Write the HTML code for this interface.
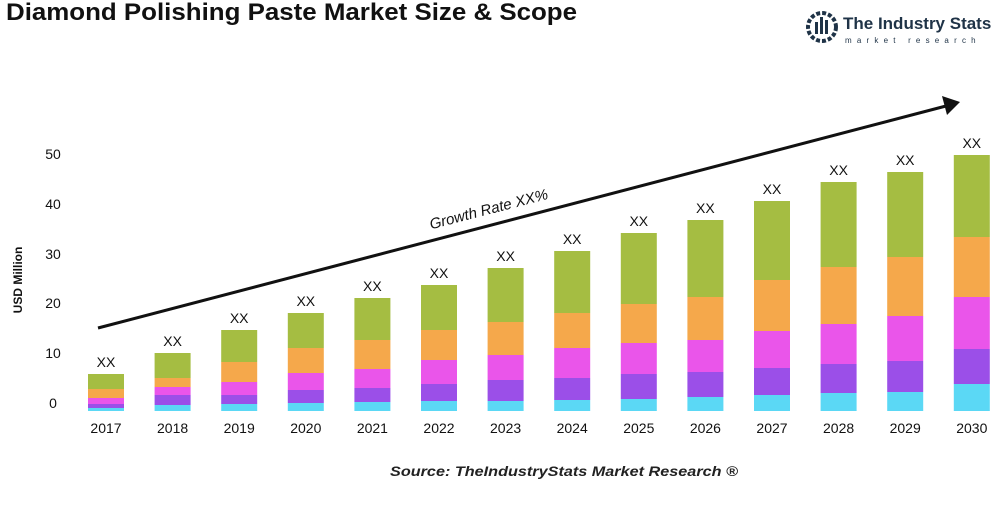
<!DOCTYPE html>
<html><head><meta charset="utf-8"><style>
body{margin:0;background:#fff;width:1000px;height:500px;overflow:hidden;font-family:"Liberation Sans",sans-serif}
</style></head><body>
<svg width="1000" height="500" xmlns="http://www.w3.org/2000/svg" font-family="Liberation Sans, sans-serif">
<text x="6" y="20" font-size="24" font-weight="bold" fill="#111" textLength="571" lengthAdjust="spacingAndGlyphs">Diamond Polishing Paste Market Size &amp; Scope</text>
<g>
<circle cx="822" cy="27" r="14" fill="none" stroke="#1f3347" stroke-width="4" stroke-dasharray="4 2"/>
<rect x="815" y="22" width="3" height="12" fill="#1f3347"/><rect x="820" y="17" width="3" height="17" fill="#1f3347"/><rect x="825" y="20" width="3" height="14" fill="#1f3347"/>
<text x="843" y="29" font-size="17" font-weight="bold" fill="#1f3347">The Industry Stats</text>
<text x="845" y="43" font-size="8" fill="#1f3347" letter-spacing="5.2">market research</text>
</g>
<text x="22" y="280" font-size="12" font-weight="bold" fill="#111" transform="rotate(-90 22 280)" text-anchor="middle">USD Million</text>
<g font-size="14" fill="#111" text-anchor="middle">
<text x="53" y="159">50</text><text x="53" y="209">40</text><text x="53" y="259">30</text><text x="53" y="308">20</text><text x="53" y="358">10</text><text x="53" y="408">0</text>
</g>
<g id="bars"></g>
<line x1="98" y1="328" x2="946" y2="106" stroke="#111" stroke-width="3"/>
<polygon points="960,102 942,96 947,115" fill="#111"/>
<text x="490" y="214" font-size="15" fill="#111" text-anchor="middle" transform="rotate(-14.6 490 214)" font-style="italic">Growth Rate XX%</text>
<text x="390" y="476" font-size="14" font-style="italic" font-weight="bold" fill="#222" textLength="348" lengthAdjust="spacingAndGlyphs">Source: TheIndustryStats Market Research ®</text>
</svg>
<script>
var d=[[374,389,398,404,408],[353,378,387,395,405],[330,362,382,395,404],[313,348,373,390,403],[298,340,369,388,402],[285,330,360,384,401],[268,322,355,380,401],[251,313,348,378,400],[233,304,343,374,399],[220,297,340,372,397],[201,280,331,368,395],[182,267,324,364,393],[172,257,316,361,392],[155,237,297,349,384]];
var c=["#a5bd42","#f5a84b","#ea55ea","#9b4fe8","#5bd8f5"];
var g=document.getElementById("bars"),s="";
d.forEach(function(b,i){var cx=106+i*66.6,x=cx-18;
for(var k=0;k<5;k++){var y=b[k],y2=k<4?b[k+1]:411;s+='<rect x="'+x+'" y="'+y+'" width="36" height="'+(y2-y)+'" fill="'+c[k]+'"/>';}
s+='<text x="'+cx+'" y="'+(b[0]-7)+'" font-size="14" text-anchor="middle" fill="#111">XX</text>';
s+='<text x="'+cx+'" y="433" font-size="14" text-anchor="middle" fill="#111">'+(2017+i)+'</text>';});
g.innerHTML=s;
</script>
</body></html>
